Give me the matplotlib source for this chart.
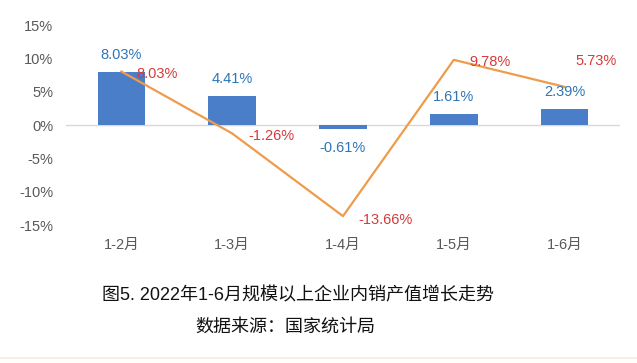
import numpy as np
import matplotlib.pyplot as plt
from matplotlib.lines import Line2D

plt.rcParams['font.family'] = ['Liberation Sans', 'Noto Sans CJK SC', 'DejaVu Sans']

# 数据
months = ["1-2月", "1-3月", "1-4月", "1-5月", "1-6月"]
bar_vals = [8.03, 4.41, -0.61, 1.61, 2.39]
line_vals = [8.03, -1.26, -13.66, 9.78, 5.73]

fig = plt.figure(figsize=(6.37, 3.63), dpi=100)
ax = fig.add_axes([0.1036, 0.380, 0.8697, 0.551])

x = np.arange(len(months))
ax.bar(x, bar_vals, width=0.43, color='#4a7ec9', zorder=2)
ax.axhline(0, color='#d9d9d9', lw=1, zorder=1)
ax.plot(x, line_vals, color='#ee9c4c', lw=1.6, zorder=3)

# 柱形数据标签
for i, v in enumerate(bar_vals):
    if v >= 0:
        ax.text(i, v + 1.5, f"{v:.2f}%", ha='center', va='bottom', color='#2e75b6', fontsize=10.5)
    else:
        ax.text(i, v - 1.8, f"{v:.2f}%", ha='center', va='top', color='#2e75b6', fontsize=10.5)

# 折线数据标签
line_offsets = [(0.32, -0.3), (0.35, -0.4), (0.38, -0.6), (0.33, -0.3), (0.28, 3.9)]
for i, v in enumerate(line_vals):
    dx, dy = line_offsets[i]
    ax.text(i + dx, v + dy, f"{v:.2f}%", ha='center', va='center', color='#d63a3a', fontsize=10.5)

ax.set_xlim(-0.5, 4.5)
ax.set_ylim(-15, 15)
ax.set_yticks(range(-15, 16, 5))
ax.set_yticklabels([f"{t}%" for t in range(-15, 16, 5)])
ax.set_xticks(x)
ax.set_xticklabels(months)
ax.tick_params(axis='both', length=0, labelsize=10.5, colors='#595959')
ax.tick_params(axis='y', pad=9)
ax.tick_params(axis='x', pad=9)
for s in ax.spines.values():
    s.set_visible(False)

fig.text(0.468, 0.185, "图5. 2022年1-6月规模以上企业内销产值增长走势", ha='center', va='center',
         fontsize=13, color='#111111')
fig.text(0.448, 0.098, "数据来源：国家统计局", ha='center', va='center',
         fontsize=13, color='#111111')

fig.add_artist(Line2D([0.0, 1.0], [0.014, 0.014], transform=fig.transFigure, color='#fbe9d6', lw=1.2))

fig.savefig("out.png", dpi=100)
